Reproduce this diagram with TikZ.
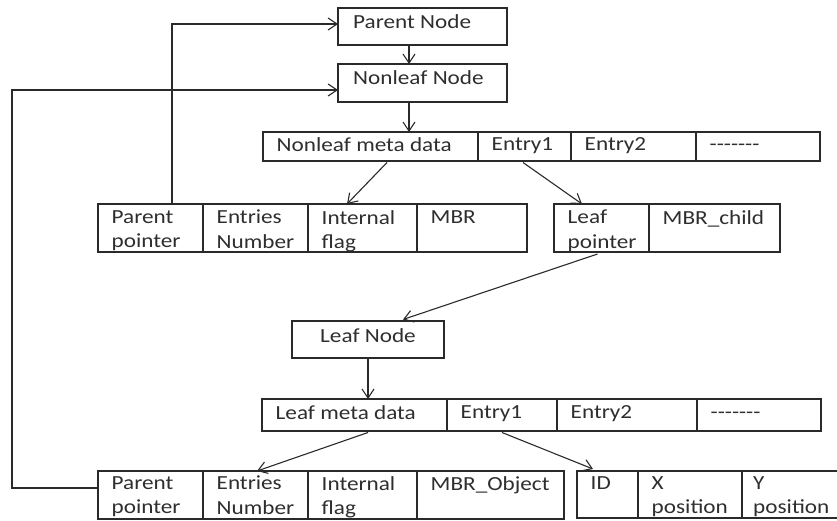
\documentclass[tikz,border=0pt]{standalone}
\usepackage{fontspec}
\setmainfont{Carlito}[FakeStretch=1.16]
\usetikzlibrary{arrows.meta}
\definecolor{ink}{HTML}{2A2A2A}
\definecolor{txtc}{HTML}{2E2E2E}
\newcommand{\dashrow}{\vphantom{E}-{}-{}-{}-{}-{}-{}-}
\begin{document}
\begin{tikzpicture}[x=1pt,y=-1pt,
  cell/.style={draw=ink, line width=1.1pt, anchor=north west, inner sep=0pt, outer sep=0pt},
  sz/.style 2 args={minimum width=#1pt, minimum height=#2pt},
  txt/.style={anchor=north west, align=left, inner xsep=13.5pt, inner ysep=6pt, text=txtc, font=\fontsize{20}{24.5}\selectfont},
  arr/.style={draw=ink, line width=1.1pt, -{Straight Barb[length=9pt,width=12pt]}},
]
\useasboundingbox (0,0) rectangle (837,521);
\clip (0,0) rectangle (837,521);

% top boxes
\node[cell, sz={169}{37}, label={[txt, inner xsep=15pt]north west:Parent Node}] (parent) at (338,8) {};
\node[cell, sz={169}{38}, label={[txt, inner xsep=15pt]north west:Nonleaf Node}] (nonleaf) at (338,64) {};

% nonleaf meta row
\node[cell, sz={215}{29}, label={[txt, inner ysep=5.5pt]north west:Nonleaf meta data}] (m1) at (263,132) {};
\node[cell, sz={93}{29}, label={[txt, inner ysep=5.5pt]north west:Entry1}] (m2) at (478,132) {};
\node[cell, sz={125}{29}, label={[txt, inner ysep=5.5pt]north west:Entry2}] (m3) at (571,132) {};
\node[cell, sz={124}{29}, label={[txt, inner ysep=5.5pt]north west:\dashrow}] (m4) at (696,132) {};

% nonleaf entry row
\node[cell, sz={105}{48}, label={[txt]north west:{Parent\\pointer}}] (a1) at (98,204) {};
\node[cell, sz={105}{48}, label={[txt]north west:{Entries\\Number}}] (a2) at (203,204) {};
\node[cell, sz={109}{48}, label={[txt]north west:{Internal\\flag}}] (a3) at (308,204) {};
\node[cell, sz={110}{48}, label={[txt]north west:MBR}] (a4) at (417,204) {};
\node[cell, sz={95}{48}, label={[txt]north west:{Leaf\\pointer}}] (b1) at (554,204) {};
\node[cell, sz={131}{48}, label={[txt]north west:MBR\_child}] (b2) at (649,204) {};

% leaf node
\node[cell, sz={152}{37}, label={[txt, anchor=north, inner xsep=0pt, inner ysep=7pt]north:Leaf Node}] (leaf) at (292,321) {};

% leaf meta row
\node[cell, sz={185}{32}, label={[txt]north west:Leaf meta data}] (c1) at (262,399) {};
\node[cell, sz={110}{32}, label={[txt]north west:Entry1}] (c2) at (447,399) {};
\node[cell, sz={140}{32}, label={[txt]north west:Entry2}] (c3) at (557,399) {};
\node[cell, sz={124}{32}, label={[txt]north west:\dashrow}] (c4) at (697,399) {};

% leaf entry rows
\node[cell, sz={105}{48}, label={[txt, inner ysep=5pt]north west:{Parent\\pointer}}] (d1) at (98,471) {};
\node[cell, sz={105}{48}, label={[txt, inner ysep=5pt]north west:{Entries\\Number}}] (d2) at (203,471) {};
\node[cell, sz={109}{48}, label={[txt, inner ysep=5pt]north west:{Internal\\flag}}] (d3) at (308,471) {};
\node[cell, sz={147}{48}, label={[txt, inner ysep=5pt]north west:MBR\_Object}] (d4) at (417,471) {};
\node[cell, sz={61}{47}, label={[txt, inner ysep=5pt]north west:ID}] (e1) at (577,471) {};
\node[cell, sz={104}{47}, label={[txt, inner ysep=5pt]north west:{X\\position}}] (e2) at (638,471) {};
\node[cell, sz={102}{47}, label={[txt, inner ysep=5pt, inner xsep=11pt]north west:{Y\\position}}] (e3) at (742,471) {};

\coordinate (lc) at (12,300);

% connectors
\draw[arr] ([xshift=74pt]a1.north west) |- ([yshift=2.5pt]parent.west);
\draw[arr] ([yshift=7pt]d1.west) -| (lc) |- ([yshift=-7pt]nonleaf.west);
\draw[arr] ([xshift=-13.5pt]parent.south) -- ([xshift=-13.5pt]nonleaf.north);
\draw[arr] ([xshift=-13.5pt]nonleaf.south) -- ([xshift=-13.5pt]nonleaf.south |- m1.north);
\draw[arr] ([xshift=16.5pt,yshift=-1.5pt]m1.south) -- ([xshift=-15.5pt]a3.north);
\draw[arr] ([xshift=-1.5pt,yshift=-1.5pt]m2.south) -- ([xshift=-19.5pt]b1.north);
\draw[arr] ([xshift=-4pt,yshift=-2pt]b1.south) -- ([xshift=35pt,yshift=1.5pt]leaf.north);
\draw[arr] (leaf.south) -- (leaf.south |- c1.north);
\draw[arr] ([xshift=13.5pt,yshift=-1.5pt]c1.south) -- ([xshift=1.5pt]d2.north);
\draw[arr] ([yshift=-1.5pt]c2.south) -- ([xshift=-14.5pt,yshift=2pt]e1.north);
\end{tikzpicture}
\end{document}
